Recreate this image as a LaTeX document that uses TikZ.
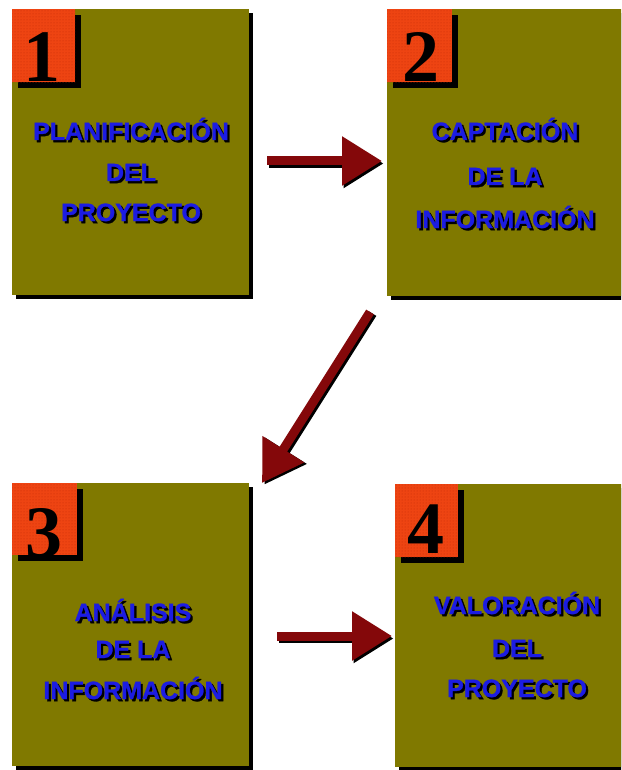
\documentclass[tikz,border=0pt]{standalone}
\usepackage{fontspec}
\setmainfont{Liberation Sans}[BoldFeatures={FakeBold=1.2}]
\newfontfamily\numfont{Liberation Serif}
\usetikzlibrary{arrows.meta,shadows,patterns}

\definecolor{panelolive}{RGB}{128,121,0}
\definecolor{tagred}{RGB}{238,68,18}
\definecolor{tagdots}{RGB}{196,44,8}
\definecolor{titleblue}{RGB}{28,28,226}
\definecolor{arrowred}{RGB}{132,8,10}

% heading text drawn over a dark copy of itself
\newcommand\shadowed[1]{\rlap{\kern2.2pt\raisebox{-2.2pt}{\color{black}#1}}#1}

\tikzset{
  panel/.style={fill=panelolive, inner sep=0pt, anchor=north west,
    drop shadow={shadow xshift=4pt, shadow yshift=-4pt, opacity=1, fill=black}},
  tag/.style={fill=tagred, inner sep=0pt, anchor=north west,
    drop shadow={shadow xshift=6pt, shadow yshift=-6pt, opacity=1, fill=black},
    postaction={pattern=dots, pattern color=tagdots}},
  digit/.style={inner sep=0pt, anchor=base, text=black,
    font=\numfont\bfseries\fontsize{74}{74}\selectfont},
  title/.style={inner sep=0pt, anchor=base, text=titleblue,
    font=\bfseries\fontsize{25}{25}\selectfont},
  flowshade/.style={draw=black, line width=9pt,
    -{Triangle[length=40pt,width=47pt]}},
  flow/.style={flowshade, draw=arrowred}
}

% one line of heading text
\newcommand\headline[4]{%
  \node[title] (#1) at (#2,#3) {\shadowed{#4}};
}

\begin{document}
\begin{tikzpicture}[x=1pt,y=-1pt]
\useasboundingbox (0,0) rectangle (621,770);
\fill[white] (0,0) rectangle (621,770);
\begin{scope}
\clip (0,0) rectangle (621,770);

% panels
\node[panel, minimum width=237pt, minimum height=286pt] (p1) at (12,9) {};
\node[panel, minimum width=260pt, minimum height=287pt] (p2) at (387,9) {};
\node[panel, minimum width=237pt, minimum height=283pt] (p3) at (12,483) {};
\node[panel, minimum width=260pt, minimum height=283pt] (p4) at (395,484) {};

% numbered tags
\node[tag, minimum width=63pt, minimum height=73pt] (q1) at (12,9) {};
\node[tag, minimum width=65pt, minimum height=73pt] (q2) at (387,9) {};
\node[tag, minimum width=65pt, minimum height=72pt] (q3) at (12,483) {};
\node[tag, minimum width=63pt, minimum height=73pt] (q4) at (395,484) {};

\node[digit] (n1) at (42,82) {1};
\node[digit] (n2) at (421,82) {2};
\node[digit] (n3) at (44,557) {3};
\node[digit] (n4) at (426,553) {4};

% headings
\headline{h1a}{131}{140}{PLANIFICACIÓN}
\headline{h1b}{131}{181}{DEL}
\headline{h1c}{131}{221}{PROYECTO}

\headline{h2a}{505}{140}{CAPTACIÓN}
\headline{h2b}{505}{185}{DE LA}
\headline{h2c}{505}{228}{INFORMACIÓN}

\headline{h3a}{133}{621}{ANÁLISIS}
\headline{h3b}{133}{658}{DE LA}
\headline{h3c}{133}{699}{INFORMACIÓN}

\headline{h4a}{517}{614}{VALORACIÓN}
\headline{h4b}{517}{657}{DEL}
\headline{h4c}{517}{697}{PROYECTO}

% flow arrows between the panels
\coordinate (a1s) at (267,161);
\coordinate (a1e) at (382,161);
\coordinate (a2s) at (370,312);
\coordinate (a2e) at (262,483);
\coordinate (a3s) at (277,636);
\coordinate (a3e) at (392,636);

\draw[flowshade] ([shift={(1.5,2.5)}]a1s) -- ([shift={(1.5,2.5)}]a1e);
\draw[flowshade] ([shift={(2.5,1.5)}]a2s) -- ([shift={(2.5,1.5)}]a2e);
\draw[flowshade] ([shift={(1.5,2.5)}]a3s) -- ([shift={(1.5,2.5)}]a3e);
\draw[flow] (a1s) -- (a1e);
\draw[flow] (a2s) -- (a2e);
\draw[flow] (a3s) -- (a3e);
\end{scope}
\end{tikzpicture}
\end{document}
